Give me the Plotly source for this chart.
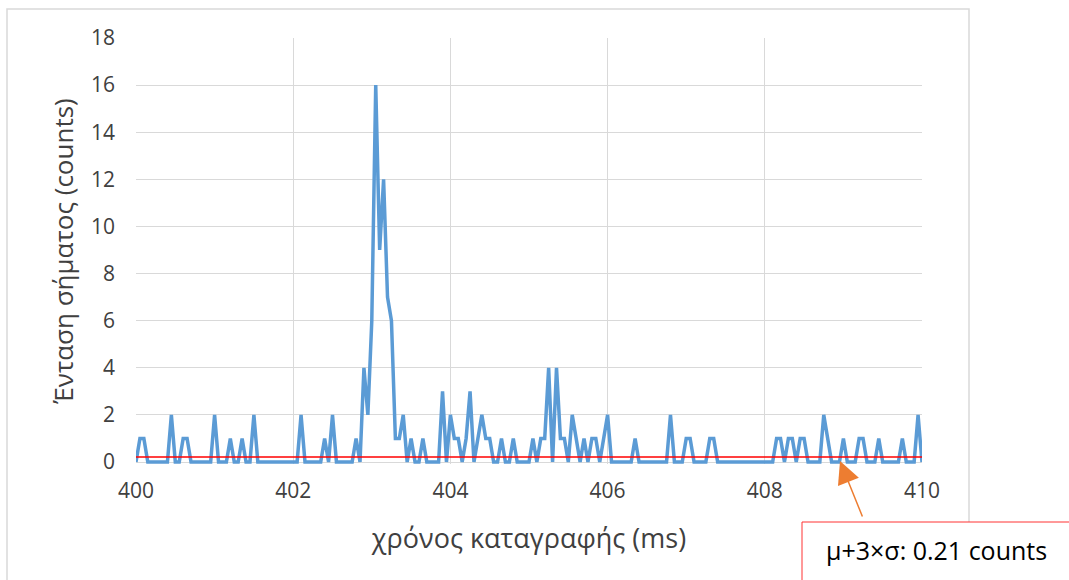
import plotly.graph_objects as go

# Photon counts per 0.05 ms time bin, from 400.00 ms to 410.00 ms
t_start_ms = 400.0
bin_ms = 0.05
counts = [
    0, 1, 1, 0, 0, 0, 0, 0, 0, 2,    # 400.00 - 400.45
    0, 0, 1, 1, 0, 0, 0, 0, 0, 0,    # 400.50 - 400.95
    2, 0, 0, 0, 1, 0, 0, 1, 0, 0,    # 401.00 - 401.45
    2, 0, 0, 0, 0, 0, 0, 0, 0, 0,    # 401.50 - 401.95
    0, 0, 2, 0, 0, 0, 0, 0, 1, 0,    # 402.00 - 402.45
    2, 0, 0, 0, 0, 0, 1, 0, 4, 2,    # 402.50 - 402.95
    6, 16, 9, 12, 7, 6, 1, 1, 2, 0,  # 403.00 - 403.45
    1, 0, 0, 1, 0, 0, 0, 0, 3, 0,    # 403.50 - 403.95
    2, 1, 1, 0, 1, 3, 0, 1, 2, 1,    # 404.00 - 404.45
    1, 0, 0, 1, 0, 0, 1, 0, 0, 0,    # 404.50 - 404.95
    0, 1, 0, 1, 1, 4, 0, 4, 1, 1,    # 405.00 - 405.45
    0, 2, 1, 0, 1, 0, 1, 1, 0, 1,    # 405.50 - 405.95
    2, 0, 0, 0, 0, 0, 0, 1, 0, 0,    # 406.00 - 406.45
    0, 0, 0, 0, 0, 0, 2, 0, 0, 0,    # 406.50 - 406.95
    1, 1, 0, 0, 0, 0, 1, 1, 0, 0,    # 407.00 - 407.45
    0, 0, 0, 0, 0, 0, 0, 0, 0, 0,    # 407.50 - 407.95
    0, 0, 0, 1, 1, 0, 1, 1, 0, 1,    # 408.00 - 408.45
    1, 0, 0, 0, 0, 2, 1, 0, 0, 0,    # 408.50 - 408.95
    1, 0, 0, 0, 1, 1, 0, 0, 0, 1,    # 409.00 - 409.45
    0, 0, 0, 0, 0, 1, 0, 0, 0, 2,    # 409.50 - 409.95
    0,                               # 410.00
]

# Detection threshold (mean + 3 standard deviations of the background)
threshold = 0.21
threshold_label = "μ+3×σ: 0.21 counts"

x_title = "χρόνος καταγραφής (ms)"
y_title = "Ένταση σήματος (counts)"
x_range = [400, 410]
# a sliver below zero keeps the thick baseline from being clipped
y_range = [-0.085, 18]
y_ticks = list(range(0, 19, 2))

W, H = 1069, 580
ML, MR, MT, MB = 136, 147, 38, 116
PW, PH = W - ML - MR, H - MT - MB


def px_x(px):
    return (px - ML) / PW


def px_y(py):
    return (H - MB - py) / PH


FONT = "Open Sans, Noto Sans, sans-serif"
GRID = "#D9D9D9"
TEXT = "#404040"

fig = go.Figure()
fig.add_trace(go.Scatter(
    y=counts, x0=t_start_ms, dx=bin_ms,
    mode="lines",
    line=dict(color="#5B9BD5", width=3.5),
    hoverinfo="x+y",
    showlegend=False,
))

shapes = [
    # chart frame
    dict(type="rect", xref="paper", yref="paper",
         x0=px_x(7), x1=px_x(969), y0=px_y(600), y1=px_y(9),
         line=dict(color=GRID, width=1.5), fillcolor="rgba(0,0,0,0)", layer="below"),
    # threshold line
    dict(type="line", xref="x", yref="y",
         x0=x_range[0], x1=x_range[1], y0=threshold, y1=threshold,
         line=dict(color="#FF0000", width=1.5)),
    # callout box
    dict(type="rect", xref="paper", yref="paper",
         x0=px_x(802), x1=px_x(1090), y0=px_y(610), y1=px_y(522),
         line=dict(color="#FF3333", width=1), fillcolor="white"),
]

annotations = [
    dict(text=threshold_label, xref="paper", yref="paper",
         x=px_x(936), y=px_y(550), xanchor="center", yanchor="middle",
         showarrow=False, font=dict(family=FONT, size=25, color="#000000")),
    dict(text="", xref="paper", yref="paper",
         x=px_x(840), y=px_y(461), showarrow=True,
         ax=23, ay=57, arrowcolor="#ED7D31", arrowwidth=1.5,
         arrowhead=2, arrowsize=3),
]

fig.update_layout(
    width=W, height=H,
    margin=dict(l=ML, r=MR, t=MT, b=MB, pad=0),
    paper_bgcolor="white", plot_bgcolor="white",
    font=dict(family=FONT, color=TEXT),
    shapes=shapes,
    annotations=annotations,
    xaxis=dict(
        range=x_range, dtick=2, tick0=400,
        showgrid=True, gridcolor=GRID, gridwidth=1,
        zeroline=False, showline=False, ticks="",
        tickfont=dict(size=21, color=TEXT, family=FONT),
        ticklabelstandoff=12,
        title=dict(text=x_title, font=dict(size=27, color=TEXT, family=FONT), standoff=26),
    ),
    yaxis=dict(
        range=y_range, tickvals=y_ticks,
        showgrid=True, gridcolor=GRID, gridwidth=1,
        zeroline=False, showline=False, ticks="",
        tickfont=dict(size=21, color=TEXT, family=FONT),
        ticklabelstandoff=20,
        title=dict(text=y_title, font=dict(size=26, color=TEXT, family=FONT), standoff=9),
    ),
)

fig.write_html("out.html")
